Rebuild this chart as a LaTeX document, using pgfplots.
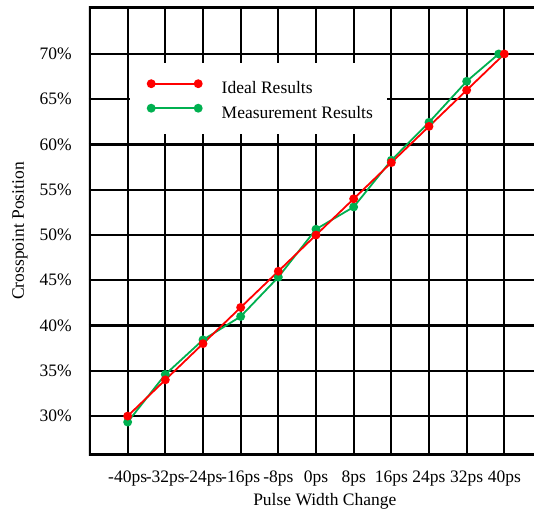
\documentclass[border=0pt]{standalone}
\usepackage{fontspec}
\setmainfont{Liberation Serif}
\usepackage{pgfplots}
\pgfplotsset{compat=1.18}
\definecolor{myred}{RGB}{255,0,0}
\definecolor{mygreen}{RGB}{0,176,80}
\newcommand{\fs}{\fontsize{17.5bp}{21bp}\selectfont}
\begin{document}
\begin{tikzpicture}
\begin{axis}[
  scale only axis, width=445bp, height=448bp,
  xmin=-48.21, xmax=46.30, ymin=25.70, ymax=75.19,
  axis line style={draw=none},
  xtick={-40,-32,-24,-16,-8,0,8,16,24,32,40},
  xticklabels={-40ps,-32ps,-24ps,-16ps,-8ps,0ps,8ps,16ps,24ps,32ps,40ps},
  ytick={30,35,40,45,50,55,60,65,70},
  yticklabels={30\%,35\%,40\%,45\%,50\%,55\%,60\%,65\%,70\%},
  major tick length=0pt,
  grid=major, major grid style={black, line width=2.2bp},
  tick label style={font=\fs},
  xticklabel style={anchor=north, inner sep=0pt, yshift=-16bp},
  yticklabel style={anchor=east, inner sep=0pt, xshift=-17bp},
  every axis x label/.style={at={(rel axis cs:0.53,0)}, anchor=north, inner sep=0pt, yshift=-38bp, font=\fs},
  every axis y label/.style={at={(rel axis cs:0,0.5)}, xshift=-77bp, rotate=90, anchor=north, inner sep=0pt, font=\fs},
  xlabel={Pulse Width Change},
  ylabel={Crosspoint Position},
  reverse legend,
  legend cell align=left,
  legend image code/.code={\draw[#1, yshift=6bp] plot coordinates {(0bp,0bp) (47bp,0bp)};},
  legend style={at={(rel axis cs:0.1315,0.837)}, anchor=north west, draw=none, fill=none,
    inner sep=0pt, font=\fs, row sep=7bp, /tikz/column sep=20bp,
    nodes={inner sep=0pt, text height=12bp, text depth=4bp}},
]
\fill[white] (rel axis cs:0.0921,0.875) rectangle (rel axis cs:0.6697,0.7165);
\addplot[mygreen, line width=1.8bp, mark=*, mark size=3.5bp, mark options={solid, fill=mygreen, draw=mygreen}]
  coordinates {(-40,29.34) (-32,34.6) (-24,38.42) (-16,41.0) (-8,45.35) (0,50.64) (8,53.1) (16,58.26) (24,62.45) (32,66.98) (38.8,70)};
\addlegendentry{Measurement Results}
\addplot[myred, line width=1.8bp, mark=*, mark size=3.5bp, mark options={solid, fill=myred, draw=myred}]
  coordinates {(-40,30) (-32,34) (-24,38) (-16,42) (-8,46) (0,50) (8,54) (16,58) (24,62) (32,66) (40,70)};
\addlegendentry{Ideal Results}
\draw[black, line width=3.2bp] (rel axis cs:1,1) -- (rel axis cs:0,1) -- (rel axis cs:0,0) -- (rel axis cs:1,0);
\coordinate (ll) at (rel axis cs:0,0);
\coordinate (ur) at (rel axis cs:1,1);
\end{axis}
\pgfresetboundingbox
\path ([shift={(-89bp,-57bp)}]ll) rectangle ([shift={(0bp,7bp)}]ur);
\end{tikzpicture}
\end{document}
